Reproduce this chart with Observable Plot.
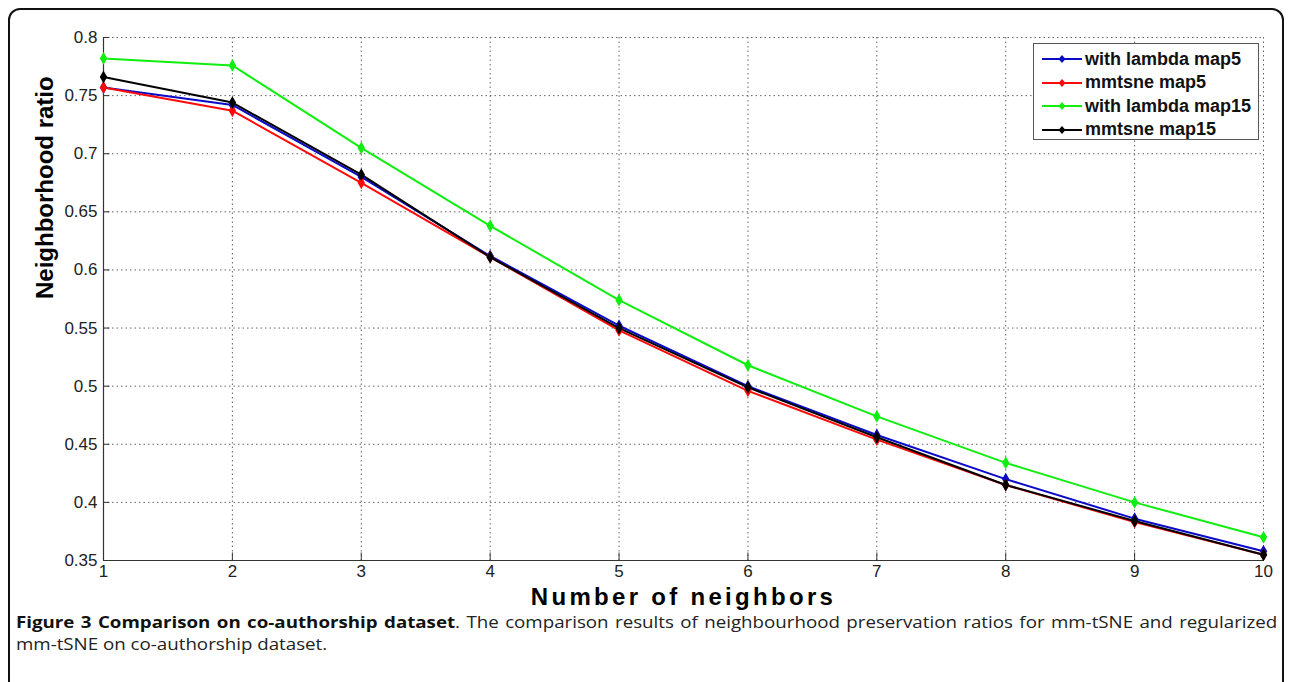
<!DOCTYPE html>
<html>
<head>
<meta charset="utf-8">
<script src="https://cdn.jsdelivr.net/npm/d3@7"></script>
<script src="https://cdn.jsdelivr.net/npm/@observablehq/plot@0.6"></script>
<style>
  html, body { margin: 0; padding: 0; background: #fff; }
  body { width: 1292px; height: 682px; overflow: hidden; position: relative; }
  #frame { position: absolute; left: 8px; top: 8px; width: 1276px; height: 700px; border: 2px solid #111; border-radius: 12px; box-sizing: border-box; }
  #chart { position: absolute; left: 0; top: 0; }
  #legend { position: absolute; left: 1033px; top: 43px; width: 226px; height: 97px; border: 1px solid #555; background: #fff; box-sizing: border-box; font-family: "Liberation Sans", Arial, sans-serif; font-weight: bold; font-size: 18px; color: #111; white-space: nowrap; }
  .lrow { position: absolute; left: 7px; height: 22px; display: flex; align-items: center; }
  .lrow svg { margin-right: 2px; }
  #caption { position: absolute; left: 16px; top: 611px; width: 1078px; transform: scaleX(1.17); transform-origin: 0 0; font-family: "Open Sans", "Noto Sans", sans-serif; font-size: 16px; line-height: 22px; color: #222; }
  #capLine1 { text-align: justify; text-align-last: justify; }
  #capLine1 b { color: #111; }
  #capLine2 { white-space: nowrap; }
</style>
</head>
<body>
<div id="frame"></div>
<div id="chart"></div>
<div id="legend"></div>
<div id="caption">
  <div id="capLine1"><b>Figure 3 Comparison on co-authorship dataset</b>. The comparison results of neighbourhood preservation ratios for mm-tSNE and regularized</div>
  <div id="capLine2">mm-tSNE on co-authorship dataset.</div>
</div>
<script>
const neighbors = [1, 2, 3, 4, 5, 6, 7, 8, 9, 10];
const withLambdaMap5 = [0.757, 0.742, 0.680, 0.612, 0.552, 0.500, 0.458, 0.420, 0.386, 0.358];
const mmtsneMap5     = [0.757, 0.737, 0.675, 0.611, 0.548, 0.496, 0.454, 0.415, 0.383, 0.355];
const withLambdaMap15 = [0.782, 0.776, 0.705, 0.638, 0.574, 0.518, 0.474, 0.434, 0.400, 0.370];
const mmtsneMap15    = [0.766, 0.744, 0.682, 0.611, 0.550, 0.499, 0.456, 0.415, 0.384, 0.355];
const seriesNames = ["with lambda map5", "mmtsne map5", "with lambda map15", "mmtsne map15"];
const seriesColors = ["#0a0ac8", "#ff0a0a", "#10ee10", "#000000"];
const xTicks = [1, 2, 3, 4, 5, 6, 7, 8, 9, 10];
const yTicks = [0.35, 0.4, 0.45, 0.5, 0.55, 0.6, 0.65, 0.7, 0.75, 0.8];

const allSeries = [withLambdaMap5, mmtsneMap5, withLambdaMap15, mmtsneMap15];
const rows = [];
allSeries.forEach((vals, si) => vals.forEach((v, i) => rows.push({series: seriesNames[si], x: neighbors[i], y: v})));

const font = "'Liberation Sans', Arial, sans-serif";
const chart = Plot.plot({
  width: 1292,
  height: 610,
  marginLeft: 103,
  marginRight: 29,
  marginTop: 37,
  marginBottom: 50,
  style: {fontFamily: font, background: "transparent", color: "#222"},
  x: {domain: [1, 10], ticks: xTicks},
  y: {domain: [0.35, 0.8], ticks: yTicks},
  color: {domain: seriesNames, range: seriesColors},
  marks: [
    Plot.gridY(yTicks, {stroke: "#666", strokeOpacity: 1, strokeDasharray: "1.5,3"}),
    Plot.gridX(xTicks, {stroke: "#666", strokeOpacity: 1, strokeDasharray: "1.5,3"}),
    Plot.ruleY(yTicks, {x1: 1, x2: 1.05, stroke: "#333", strokeWidth: 1}),
    Plot.ruleX(xTicks, {y1: 0.35, y2: 0.3565, stroke: "#333", strokeWidth: 1}),
    Plot.ruleX([1], {stroke: "#333", strokeWidth: 1.2}),
    Plot.ruleY([0.35], {stroke: "#333", strokeWidth: 1.2}),
    Plot.axisY(yTicks, {tickSize: 0, tickPadding: 6, fontSize: 17, tickFormat: d => String(d), label: null}),
    Plot.axisX(xTicks, {tickSize: 0, tickPadding: 4, fontSize: 17, tickFormat: d => String(d), label: null}),
    Plot.line(rows, {x: "x", y: "y", z: "series", stroke: "series", strokeWidth: 2}),
    Plot.dot(rows, {x: "x", y: "y", fill: "series", stroke: "series", symbol: "diamond", r: 3}),
    Plot.text(["Number of neighbors"], {frameAnchor: "bottom", dy: 44, fontSize: 24, fontWeight: "bold", fill: "#000"}),
    Plot.text(["Neighborhood ratio"], {frameAnchor: "left", dx: -58, rotate: -90, fontSize: 24, fontWeight: "bold", fill: "#000"})
  ]
});
d3.select(chart).selectAll("text").filter(function() { return this.textContent === "Number of neighbors"; }).attr("letter-spacing", "3.3");
document.getElementById("chart").appendChild(chart);

const legend = document.getElementById("legend");
seriesNames.forEach((name, i) => {
  const row = document.createElement("div");
  row.className = "lrow";
  row.style.top = (4 + i * 23.5) + "px";
  row.innerHTML = `<svg width="42" height="12"><line x1="1" y1="6" x2="41" y2="6" stroke="${seriesColors[i]}" stroke-width="2"/><path d="M21 2 L24.5 6 L21 10 L17.5 6 Z" fill="${seriesColors[i]}"/></svg><span>${name}</span>`;
  legend.appendChild(row);
});
</script>
</body>
</html>
